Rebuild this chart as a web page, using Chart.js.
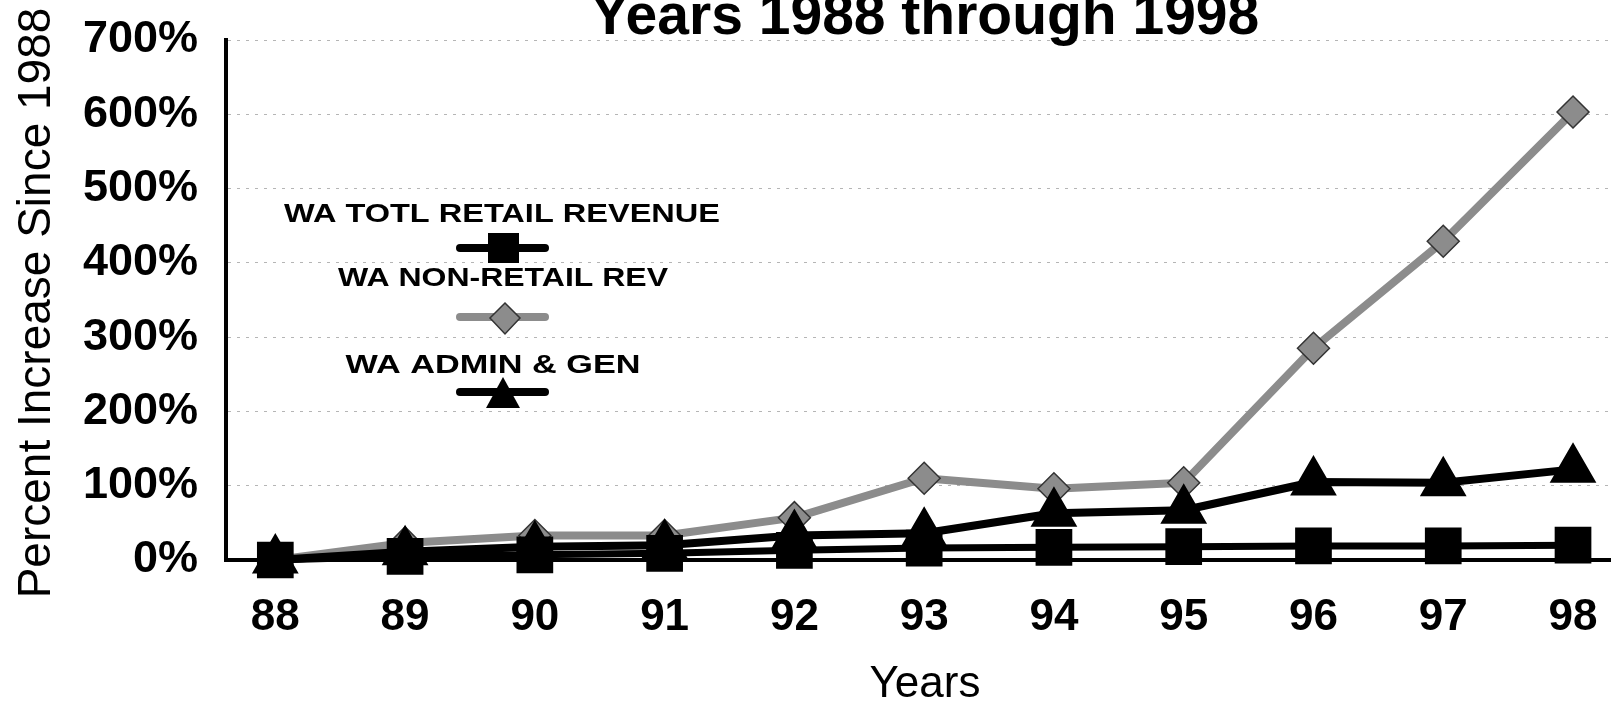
<!DOCTYPE html>
<html>
<head>
<meta charset="utf-8">
<title>Percent Increase Since 1988</title>
<script src="https://cdn.jsdelivr.net/npm/chart.js"></script>
<style>
  body { margin: 0; background: #fff; }
  canvas { display: block; }
</style>
</head>
<body>
<canvas id="growthChart" width="1612" height="704"></canvas>
<script>
// values (percent increase since 1988)
const years = [88, 89, 90, 91, 92, 93, 94, 95, 96, 97, 98];
const retailRevenue = [0, 5, 7, 9, 13, 16, 17, 18, 19, 19, 20];
const nonRetailRev = [0, 23, 33, 33, 57, 110, 96, 104, 285, 429, 603];
const adminGen = [0, 11, 18, 20, 33, 36, 63, 67, 105, 104, 122];
const yTickValues = [0, 100, 200, 300, 400, 500, 600, 700];

const seriesNames = ["WA TOTL RETAIL REVENUE", "WA NON-RETAIL REV", "WA ADMIN & GEN"];
const chartTitle = "Years 1988 through 1998";
const xTitle = "Years";
const yTitle = "Percent Increase Since 1988";

const fontFamily = '"Liberation Sans", Arial, Helvetica, sans-serif';
const gray = "#8c8c8c";

function toPoints(values) {
  return years.map((yr, i) => ({ x: yr, y: values[i] }));
}

// the scanned legend lettering is wider than Arial, so stretch to width
function stretchedText(ctx, text, cx, baseline, width) {
  const natural = ctx.measureText(text).width;
  ctx.save();
  ctx.translate(cx, baseline);
  ctx.scale(width / natural, 1);
  ctx.textAlign = "center";
  ctx.textBaseline = "alphabetic";
  ctx.fillText(text, 0, 0);
  ctx.restore();
}

function legendLine(ctx, y, color) {
  ctx.save();
  ctx.strokeStyle = color;
  ctx.lineWidth = 8;
  ctx.lineCap = "round";
  ctx.beginPath();
  ctx.moveTo(460, y);
  ctx.lineTo(545, y);
  ctx.stroke();
  ctx.restore();
}

// titles and the legend sitting inside the plot
const overlayText = {
  id: "overlayText",
  afterDraw(chart) {
    const ctx = chart.ctx;
    ctx.save();
    ctx.fillStyle = "#000";
    ctx.textAlign = "center";
    ctx.textBaseline = "alphabetic";

    ctx.font = "bold 57px " + fontFamily;
    ctx.fillText(chartTitle, 925, 34);

    ctx.font = "44px " + fontFamily;
    ctx.fillText(xTitle, 925, 697);

    ctx.save();
    ctx.font = "46px " + fontFamily;
    ctx.translate(50, 303);
    ctx.rotate(-Math.PI / 2);
    ctx.fillText(yTitle, 0, 0);
    ctx.restore();

    // legend
    ctx.font = "bold 26px " + fontFamily;
    stretchedText(ctx, seriesNames[0], 502, 222, 436);
    stretchedText(ctx, seriesNames[1], 503, 286, 330);
    stretchedText(ctx, seriesNames[2], 493, 373, 295);

    legendLine(ctx, 248, "#000");
    ctx.fillStyle = "#000";
    ctx.fillRect(488, 233, 31, 30);

    legendLine(ctx, 317, gray);
    ctx.beginPath();
    ctx.moveTo(505, 303);
    ctx.lineTo(520, 318);
    ctx.lineTo(505, 334);
    ctx.lineTo(490, 318);
    ctx.closePath();
    ctx.fillStyle = gray;
    ctx.fill();
    ctx.strokeStyle = "#333";
    ctx.lineWidth = 1.5;
    ctx.stroke();

    legendLine(ctx, 392, "#000");
    ctx.beginPath();
    ctx.moveTo(503, 377);
    ctx.lineTo(520, 408);
    ctx.lineTo(486, 408);
    ctx.closePath();
    ctx.fillStyle = "#000";
    ctx.fill();

    ctx.restore();
  }
};

new Chart(document.getElementById("growthChart"), {
  type: "line",
  data: {
    datasets: [
      {
        label: seriesNames[0],
        data: toPoints(retailRevenue),
        borderColor: "#000",
        backgroundColor: "#000",
        borderWidth: 7,
        pointStyle: "rect",
        pointRadius: 21,
        pointBackgroundColor: "#000",
        pointBorderColor: "#000",
        order: 0,
        clip: false
      },
      {
        label: seriesNames[1],
        data: toPoints(nonRetailRev),
        borderColor: gray,
        backgroundColor: gray,
        borderWidth: 8,
        pointStyle: "rectRot",
        pointRadius: 16,
        pointBackgroundColor: gray,
        pointBorderColor: "#333",
        pointBorderWidth: 1.5,
        order: 2,
        clip: false
      },
      {
        label: seriesNames[2],
        data: toPoints(adminGen),
        borderColor: "#000",
        backgroundColor: "#000",
        borderWidth: 8,
        pointStyle: "triangle",
        pointRadius: 19,
        pointBackgroundColor: "#000",
        pointBorderColor: "#000",
        order: 1,
        clip: false
      }
    ]
  },
  options: {
    responsive: false,
    animation: false,
    devicePixelRatio: 1,
    layout: { autoPadding: false, padding: { top: 40, right: 2, left: 0, bottom: 0 } },
    elements: { line: { tension: 0, borderJoinStyle: "round" } },
    plugins: {
      legend: { display: false },
      tooltip: { enabled: false }
    },
    scales: {
      x: {
        type: "linear",
        min: 87.62,
        max: 98.285,
        grid: { display: false, drawTicks: false },
        border: { color: "#000", width: 4 },
        afterBuildTicks: scale => {
          scale.ticks = years.map(v => ({ value: v }));
        },
        afterFit: scale => {
          scale.height = 144;
          scale.paddingLeft = 0;
          scale.paddingRight = 0;
        },
        ticks: {
          color: "#000",
          padding: 31,
          font: { family: fontFamily, size: 44, weight: "bold" },
          callback: v => String(v)
        }
      },
      y: {
        min: 0,
        max: 700,
        grid: { color: "#b5b5b5", lineWidth: 1, drawTicks: false },
        border: { color: "#000", width: 4, dash: [3, 6] },
        afterBuildTicks: scale => {
          scale.ticks = yTickValues.map(v => ({ value: v }));
        },
        afterFit: scale => {
          scale.width = 226;
          scale.paddingTop = 0;
          scale.paddingBottom = 0;
        },
        ticks: {
          color: "#000",
          padding: 28,
          font: { family: fontFamily, size: 45, weight: "bold" },
          callback: v => v + "%"
        }
      }
    }
  },
  plugins: [overlayText]
});
</script>
</body>
</html>
